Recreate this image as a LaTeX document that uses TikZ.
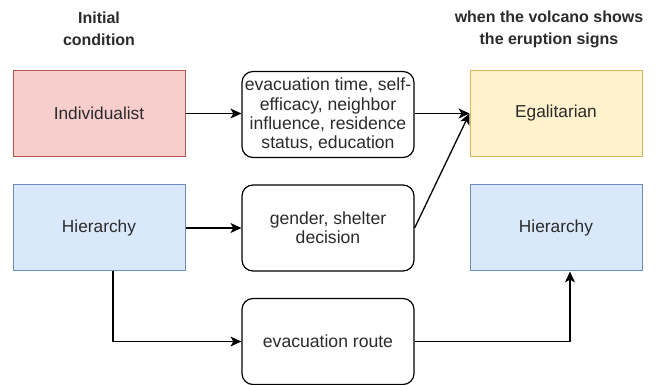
\documentclass[tikz,border=0pt]{standalone}
\usepackage{fontspec}
\setmainfont{Liberation Sans}
\usetikzlibrary{arrows.meta,calc}
\definecolor{redfill}{HTML}{F8CECC}
\definecolor{redline}{HTML}{B85450}
\definecolor{yelfill}{HTML}{FFF2CC}
\definecolor{yelline}{HTML}{D6B656}
\definecolor{bluefill}{HTML}{DAE8FC}
\definecolor{blueline}{HTML}{6C8EBF}
\definecolor{txt}{HTML}{2B2B2B}
\begin{document}
\begin{tikzpicture}[x=1pt,y=-1pt,
  state/.style={draw, line width=1pt, minimum width=172pt, minimum height=86pt,
    inner sep=0pt, text=txt, font=\fontsize{17.3}{19.5}\selectfont},
  factor/.style={draw=black, line width=1.2pt, rounded corners=11pt, fill=white,
    minimum width=172pt, minimum height=86pt, inner sep=0pt, align=center,
    text=txt, font=\fontsize{17.6}{19.3}\selectfont},
  heading/.style={align=center, text=txt, font=\bfseries\fontsize{16}{22}\selectfont},
  link/.style={draw=black, line width=1.3pt, -{Stealth[length=11pt,width=10pt,inset=3pt]}}]
\useasboundingbox (0,0) rectangle (657,385);

% column headings
\node[heading] (h1) at (99,29) {Initial\\condition};
\node[heading] (h2) at (549,29) {when the volcano shows\\the eruption signs};

% cultural types
\node[state, fill=redfill, draw=redline] (ind) at (99,113.5) {Individualist};
\node[state, fill=bluefill, draw=blueline] (hl) at (99,228) {Hierarchy};
\node[state, fill=yelfill, draw=yelline] (ega) at (556,113.5) {Egalitarian};
\node[state, fill=bluefill, draw=blueline] (hr) at (556,228) {Hierarchy};

% influencing factors
\node[factor] (f1) at (328,114.5) {evacuation time, self-\\efficacy, neighbor\\influence, residence\\status, education};
\node[factor] (f2) at (328,228) {gender, shelter\\decision};
\node[factor] (f3) at (328,341.5) {evacuation route};

% transitions
\draw[link] (ind.east) -- (f1.west |- ind.east);
\draw[link] (f1.east |- ega.west) -- (ega.west);
\draw[link] (hl.east) -- (f2.west);
\draw[link] (f2.east) -- (ega.west);
\coordinate (hdown) at ($(hl.south)+(14,0)$);
\coordinate (hup) at ($(hr.south)+(14,0)$);
\draw[link] (hdown) |- (f3.west);
\draw[link] (f3.east) -| (hup);
\end{tikzpicture}
\end{document}
